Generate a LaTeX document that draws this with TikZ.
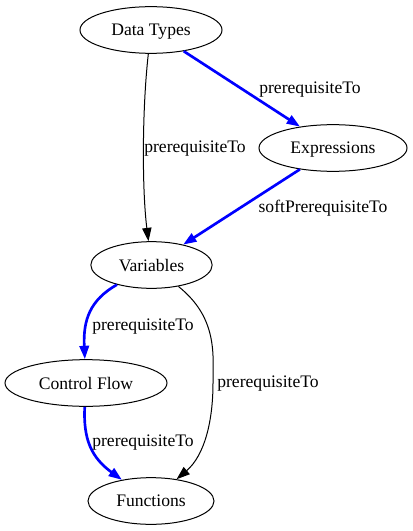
\documentclass[tikz,border=0pt]{standalone}
\usepackage{fontspec}
\setmainfont{Liberation Serif}
\usetikzlibrary{shapes.geometric,arrows.meta}
\begin{document}
\begin{tikzpicture}[x=0.75pt,y=-0.75pt,
  every node/.style={font=\fontsize{13.2}{15}\selectfont},
  concept/.style={draw,ellipse,line width=0.75pt,inner sep=0pt,minimum height=35pt,text depth=0pt},
  hard/.style={draw=black,line width=0.75pt,-{Triangle[length=10pt,width=7pt]}},
  strong/.style={draw=blue,line width=2pt,-{Triangle[length=10pt,width=7pt]}},
  lbl/.style={inner sep=1pt}]
\useasboundingbox (0,0) rectangle (412,531);
\node[concept,minimum width=106.5pt] (dt) at (151,30) {Data Types};
\node[concept,minimum width=111pt] (ex) at (333,148) {Expressions};
\node[concept,minimum width=91pt] (va) at (151.5,265) {Variables};
\node[concept,minimum width=121.5pt] (cf) at (86,383) {Control Flow};
\node[concept,minimum width=94.5pt] (fn) at (151,501) {Functions};

\draw[hard] (dt) .. controls (142,110) and (142,190) .. (va);
\draw[strong] (dt) -- (ex);
\draw[strong] (ex) -- (va);
\draw[strong] (va) .. controls (90,300) and (83,320) .. (cf);
\draw[hard] (va) .. controls (218,318) and (213,355) .. (213,383) .. controls (213,420) and (205,455) .. (fn);
\draw[strong] (cf) .. controls (83,440) and (92,458) .. (fn);

\node[lbl] (l1) at (195,149) {prerequisiteTo};
\node[lbl] (l2) at (310,90) {prerequisiteTo};
\node[lbl] (l3) at (323,208) {softPrerequisiteTo};
\node[lbl] (l4) at (143,327) {prerequisiteTo};
\node[lbl] (l5) at (268,384) {prerequisiteTo};
\node[lbl] (l6) at (143,443) {prerequisiteTo};
\end{tikzpicture}
\end{document}
